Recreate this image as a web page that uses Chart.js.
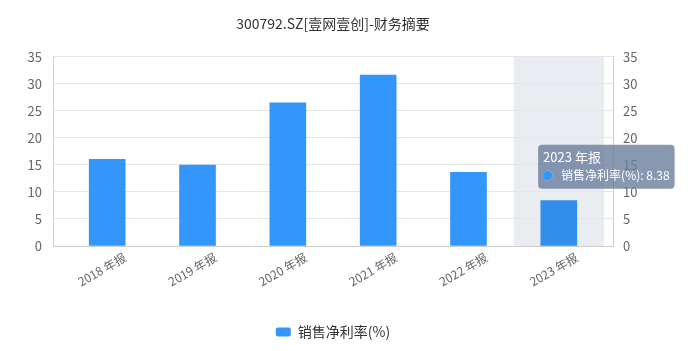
<!DOCTYPE html>
<html>
<head>
<meta charset="utf-8">
<script src="https://cdn.jsdelivr.net/npm/chart.js@4/dist/chart.umd.min.js"></script>
<style>
    html, body { margin: 0; padding: 0; background: #fff; }
    #wrap { width: 700px; height: 351px; }
</style>
</head>
<body>
<div id="wrap"><canvas id="finChart"></canvas></div>
<script>
// Chart data
const titleText = "300792.SZ[壹网壹创]-财务摘要";
const categories = ["2018 年报", "2019 年报", "2020 年报", "2021 年报", "2022 年报", "2023 年报"];
const netMargin = [16.05, 14.95, 26.5, 31.6, 13.65, 8.38];
const seriesName = "销售净利率(%)";
const yTicks = [0, 5, 10, 15, 20, 25, 30, 35];
const hoverIndex = 5;

const FONT = "'Noto Sans CJK SC', 'Noto Sans', sans-serif";

// Tooltip sits up and left of the hovered bar
Chart.Tooltip.positioners.nearBar = function (elements) {
    if (!elements.length) return false;
    const el = elements[0].element;
    return { x: el.x - 16.7, y: el.y - 56 };
};

// Grey hover band behind the active category
const hoverBand = {
    id: 'hoverBand',
    beforeDraw(chart) {
        const { ctx, chartArea, scales } = chart;
        const x0 = scales.x.getPixelForValue(hoverIndex - 0.5);
        const x1 = scales.x.getPixelForValue(hoverIndex + 0.5);
        ctx.save();
        ctx.fillStyle = '#e9ecf1';
        ctx.fillRect(x0, chartArea.top, x1 - x0, chartArea.bottom - chartArea.top);
        ctx.restore();
    }
};

const points = netMargin.map((v, i) => ({ x: i, y: v }));

const chart = new Chart(document.getElementById('finChart').getContext('2d'), {
    type: 'bar',
    data: {
        datasets: [{
            label: seriesName,
            data: points,
            backgroundColor: '#3296fa',
            hoverBackgroundColor: '#318ee9',
            borderWidth: 0,
            barThickness: 36,
            yAxisID: 'y'
        }]
    },
    options: {
        responsive: true,
        maintainAspectRatio: false,
        animation: false,
        events: [],
        layout: { padding: { left: 0, right: 34, top: 0, bottom: 2 } },
        scales: {
            x: {
                type: 'linear',
                offset: false,
                min: -0.6,
                max: categories.length - 0.4,
                afterBuildTicks: scale => { scale.ticks = categories.map((_, i) => ({ value: i })); },
                afterFit: scale => { scale.height = 69; },
                grid: { display: false, drawTicks: false },
                border: { display: true, color: '#cccccc', width: 1 },
                ticks: {
                    autoSkip: false,
                    minRotation: 30,
                    maxRotation: 30,
                    padding: 4,
                    labelOffset: 18,
                    color: '#666',
                    font: { family: FONT, size: 12 },
                    callback: v => categories[v]
                }
            },
            y: {
                position: 'left',
                min: 0,
                max: 35,
                afterBuildTicks: scale => { scale.ticks = yTicks.map(v => ({ value: v })); },
                afterFit: scale => { scale.width = 53; },
                grid: { color: '#e6e6e6', drawTicks: false },
                border: { color: '#cccccc', width: 1 },
                ticks: { padding: 11, color: '#666', font: { family: FONT, size: 13 } }
            },
            y2: {
                position: 'right',
                min: 0,
                max: 35,
                afterBuildTicks: scale => { scale.ticks = yTicks.map(v => ({ value: v })); },
                afterFit: scale => { scale.width = 53; },
                grid: { display: false, drawTicks: false },
                border: { color: '#cccccc', width: 1 },
                ticks: { padding: 10, color: '#666', font: { family: FONT, size: 13 } }
            }
        },
        plugins: {
            title: {
                display: true,
                text: titleText,
                color: '#333',
                font: { family: FONT, size: 14, weight: 'normal' },
                padding: { top: 15, bottom: 25 }
            },
            legend: {
                position: 'bottom',
                labels: {
                    boxWidth: 15,
                    boxHeight: 9,
                    useBorderRadius: true,
                    borderRadius: 2,
                    color: '#333',
                    padding: 10,
                    font: { family: FONT, size: 14 }
                }
            },
            tooltip: {
                enabled: true,
                position: 'nearBar',
                xAlign: 'left',
                yAlign: 'top',
                caretSize: 0,
                caretPadding: 0,
                cornerRadius: 4,
                backgroundColor: 'rgba(106,126,158,0.8)',
                titleColor: '#fff',
                bodyColor: '#fff',
                titleFont: { family: FONT, size: 13, weight: 'normal' },
                bodyFont: { family: FONT, size: 12 },
                titleMarginBottom: 3,
                padding: { left: 5, right: 5, top: 5, bottom: 6 },
                usePointStyle: true,
                boxWidth: 9,
                boxHeight: 9,
                boxPadding: 7,
                callbacks: {
                    title: items => categories[items[0].dataIndex],
                    label: item => seriesName + ': ' + netMargin[item.dataIndex],
                    labelColor: () => ({ backgroundColor: '#3296fa', borderColor: '#3296fa' }),
                    labelPointStyle: () => ({ pointStyle: 'circle', rotation: 0 })
                }
            }
        }
    },
    plugins: [hoverBand]
});

// Show the hovered state for the last year
const active = [{ datasetIndex: 0, index: hoverIndex }];
chart.setActiveElements(active);
chart.tooltip.setActiveElements(active, { x: 0, y: 0 });
chart.update();
</script>
</body>
</html>
